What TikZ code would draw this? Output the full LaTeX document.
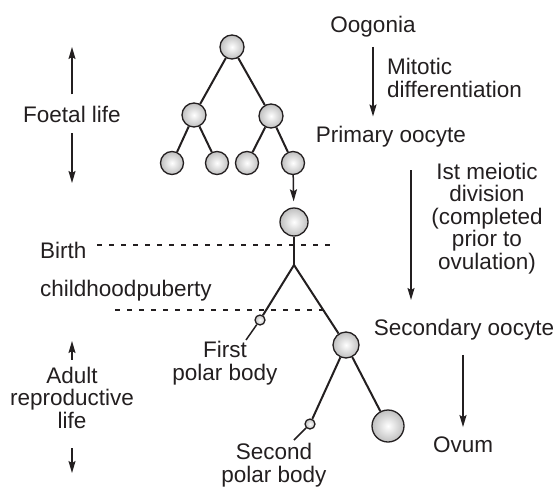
\documentclass[tikz,border=0pt]{standalone}
\usepackage{fontspec}
\setmainfont{Liberation Sans}
\usetikzlibrary{arrows.meta}
\definecolor{ink}{HTML}{231F20}
\begin{document}
\begin{tikzpicture}[x=1pt,y=-1pt,
  lbl/.style={font=\fontsize{22.5}{22.5}\selectfont, text=ink, inner sep=0pt, anchor=base, align=center},
  cell/.style={circle, draw=ink, line width=1.3pt, inner sep=0pt, shading=radial, inner color=white, outer color=black!25},
  branch/.style={draw=ink, line width=2pt},
  thinbranch/.style={draw=ink, line width=1.5pt},
  arr/.style={draw=ink, line width=1.5pt, -{Stealth[length=12pt,width=7pt,inset=2pt]}},
  dashline/.style={draw=ink, line width=1.8pt, dash pattern=on 5pt off 7pt}
]
\useasboundingbox (0,0) rectangle (556,487);
\fill[white] (0,0) rectangle (556,487);

% tree of oogonia
\node[cell, minimum size=24pt] (c1) at (232,47) {};
\node[cell, minimum size=24pt] (c2l) at (194,115) {};
\node[cell, minimum size=24pt] (c2r) at (271,116) {};
\node[cell, minimum size=23pt] (c3a) at (172,163) {};
\node[cell, minimum size=23pt] (c3b) at (217,163) {};
\node[cell, minimum size=23pt] (c3c) at (247,163) {};
\node[cell, minimum size=23pt] (c3d) at (293,163) {};
\draw[branch] (c1) -- (c2l);
\draw[branch] (c1) -- (c2r);
\draw[branch] (c2l) -- (c3a);
\draw[branch] (c2l) -- (c3b);
\draw[branch] (c2r) -- (c3c);
\draw[branch] (c2r) -- (c3d);

% primary oocyte and meiosis
\node[cell, minimum size=28pt] (po) at (294,222) {};
\draw[arr, shorten >=6pt] (c3d) -- (po);
\coordinate (split) at (294,265);
\node[cell, minimum size=10pt] (pb1) at (260,320) {};
\coordinate (pb1end) at (246,340);
\node[cell, minimum size=26pt] (so) at (346,345) {};
\node[cell, minimum size=10pt] (pb2) at (310,424) {};
\coordinate (pb2end) at (294,440);
\node[cell, minimum size=32pt] (ov) at (388,426) {};
\draw[branch] (po) -- (split);
\draw[branch] (split) -- (pb1);
\draw[thinbranch] (pb1) -- (pb1end);
\draw[branch] (split) -- (so);
\draw[branch] (so) -- (pb2);
\draw[thinbranch] (pb2) -- (pb2end);
\draw[branch] (so) -- (ov);

% dashed time lines
\coordinate (d1a) at (97,245);
\coordinate (d1b) at (330,245);
\coordinate (d2a) at (115,310);
\coordinate (d2b) at (326,310);
\draw[dashline] (d1a) -- (d1b);
\draw[dashline] (d2a) -- (d2b);

% left labels
\node[lbl] (foetal) at (72,122) {Foetal life};
\coordinate (fu) at (72,47);
\coordinate (fd) at (72,183);
\draw[arr, shorten <=11pt] (foetal.north) -- (fu);
\draw[arr, shorten <=11pt] (foetal.south) -- (fd);
\node[lbl, anchor=base west] (birth) at (40,258) {Birth};
\node[lbl, anchor=base west] (child) at (40,296) {childhoodpuberty};
\node[lbl] (adult) at (72,428) {Adult\\reproductive\\life};
\coordinate (au) at (72,341);
\coordinate (ad) at (72,473);
\draw[arr, shorten <=7pt] (adult.north) -- (au);
\draw[arr, shorten <=20pt] (adult.south) -- (ad);

% right labels
\node[lbl] (oog) at (373,33) {Oogonia};
\node[lbl, anchor=base west, align=left] (mit) at (387,97) {Mitotic\\differentiation};
\node[lbl] (prim) at (391,142) {Primary oocyte};
\draw[arr, shorten <=9pt, shorten >=9pt] (oog.south) -- (oog.south |- prim.north);
\node[lbl] (meio) at (487,269) {Ist meiotic\\division\\(completed\\prior to\\ovulation)};
\coordinate (m1) at (411,170);
\coordinate (m2) at (411,300);
\draw[arr] (m1) -- (m2);
\node[lbl] (sec) at (464,335) {Secondary oocyte};
\node[lbl] (ovum) at (463,452) {Ovum};
\draw[arr, shorten <=15pt, shorten >=9pt] (sec.south -| ovum.north) -- (ovum.north);
\node[lbl] (fpb) at (225,380) {First\\polar body};
\node[lbl] (spb) at (274,482) {Second\\polar body};
\end{tikzpicture}
\end{document}
